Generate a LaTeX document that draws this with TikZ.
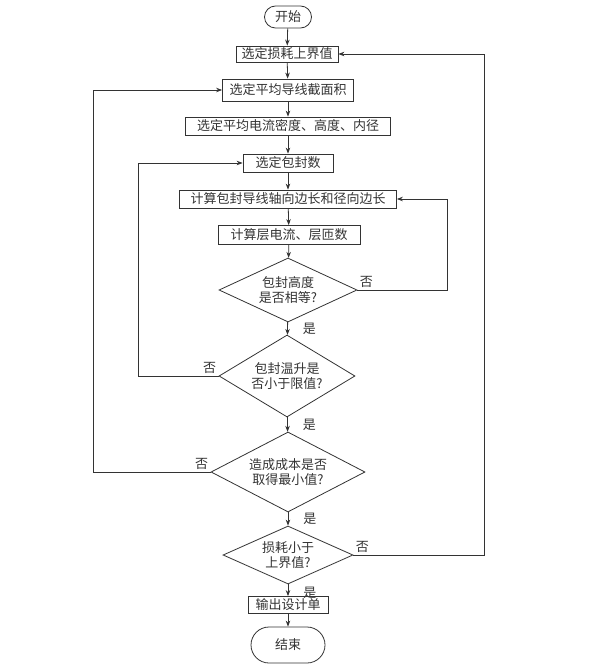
\documentclass[tikz,border=0pt]{standalone}
\usepackage{fontspec}
\setmainfont{Liberation Serif}
\newfontfamily\cjk{Noto Sans CJK SC}
\usetikzlibrary{arrows.meta,positioning,shapes.geometric}
\definecolor{Ink}{HTML}{333333}

\begin{document}
\begin{tikzpicture}[x=1pt,y=-1pt,
  every node/.style={font=\cjk\fontsize{13}{15}\selectfont,text=Ink},
  box/.style={draw=Ink,line width=0.8pt,minimum height=18pt,inner sep=0pt},
  term/.style={box,rounded corners=11pt},
  cond/.style={draw=Ink,line width=0.8pt,diamond,inner sep=0pt,align=center},
  flow/.style={draw=Ink,line width=0.8pt,-{Stealth[length=6pt,width=4.5pt]}},
  lbl/.style={inner sep=2pt}]
  \useasboundingbox (0,0) rectangle (594,671);
  \node[term,minimum width=47pt,minimum height=22pt] (start) at (288,17) {开始};
  \node[box,minimum width=102pt,minimum height=16pt] (sel1) at (287,54) {选定损耗上界值};
  \node[box,minimum width=131pt,minimum height=22pt] (sel2) at (288,90) {选定平均导线截面积};
  \node[box,minimum width=205pt] (sel3) at (288,126) {选定平均电流密度、高度、内径};
  \node[box,minimum width=90pt] (sel4) at (288,163) {选定包封数};
  \node[box,minimum width=217pt] (calc1) at (288,199) {计算包封导线轴向边长和径向边长};
  \node[box,minimum width=142pt,minimum height=19pt] (calc2) at (289,235) {计算层电流、层匝数};
  \node[cond,aspect=2.15,minimum width=138pt,minimum height=64pt] (q1) at (288,290) {包封高度\\是否相等?};
  \node[cond,aspect=1.66,minimum width=136pt,minimum height=82pt] (q2) at (287,376) {包封温升是\\否小于限值?};
  \node[cond,aspect=1.93,minimum width=154pt,minimum height=80pt] (q3) at (288,472) {造成成本是否\\取得最小值?};
  \node[cond,aspect=2.24,minimum width=130pt,minimum height=58pt] (q4) at (288,555) {损耗小于\\上界值?};
  \node[box,minimum width=80pt,minimum height=17pt] (out) at (288,605) {输出设计单};
  \node[term,minimum width=74pt,minimum height=36pt,rounded corners=18pt] (stop) at (288,645) {结束};
  \coordinate (rA) at (447,0);
  \coordinate (rB) at (484,0);
  \coordinate (lA) at (138,0);
  \coordinate (lB) at (93,0);
  \draw[flow] (start) -- (sel1);
  \draw[flow] (sel1) -- (sel2);
  \draw[flow] (sel2) -- (sel3);
  \draw[flow] (sel3) -- (sel4);
  \draw[flow] (sel4) -- (calc1);
  \draw[flow] (calc1) -- (calc2);
  \draw[flow] (calc2) -- (q1);
  \draw[flow] (q1) -- node[lbl,right=13pt] {是} (q2);
  \draw[flow] (q2) -- node[lbl,right=13pt] {是} (q3);
  \draw[flow] (q3) -- node[lbl,right=13pt] {是} (q4);
  \draw[flow] (q4) -- node[lbl,right=13pt,yshift=-3pt] {是} (out);
  \draw[flow] (out) -- (stop);
  \draw[flow] (q1.east) -- node[lbl,pos=0,anchor=south west] {否} (q1.east -| rA) |- (calc1.east);
  \draw[flow] (q2.west) -- node[lbl,pos=0,anchor=south east] {否} (q2.west -| lA) |- (sel4.west);
  \draw[flow] (q3.west) -- node[lbl,pos=0,anchor=south east] {否} (q3.west -| lB) |- (sel2.west);
  \draw[flow] (q4.east) -- node[lbl,pos=0,anchor=south west] {否} (q4.east -| rB) |- (sel1.east);
\end{tikzpicture}
\end{document}
